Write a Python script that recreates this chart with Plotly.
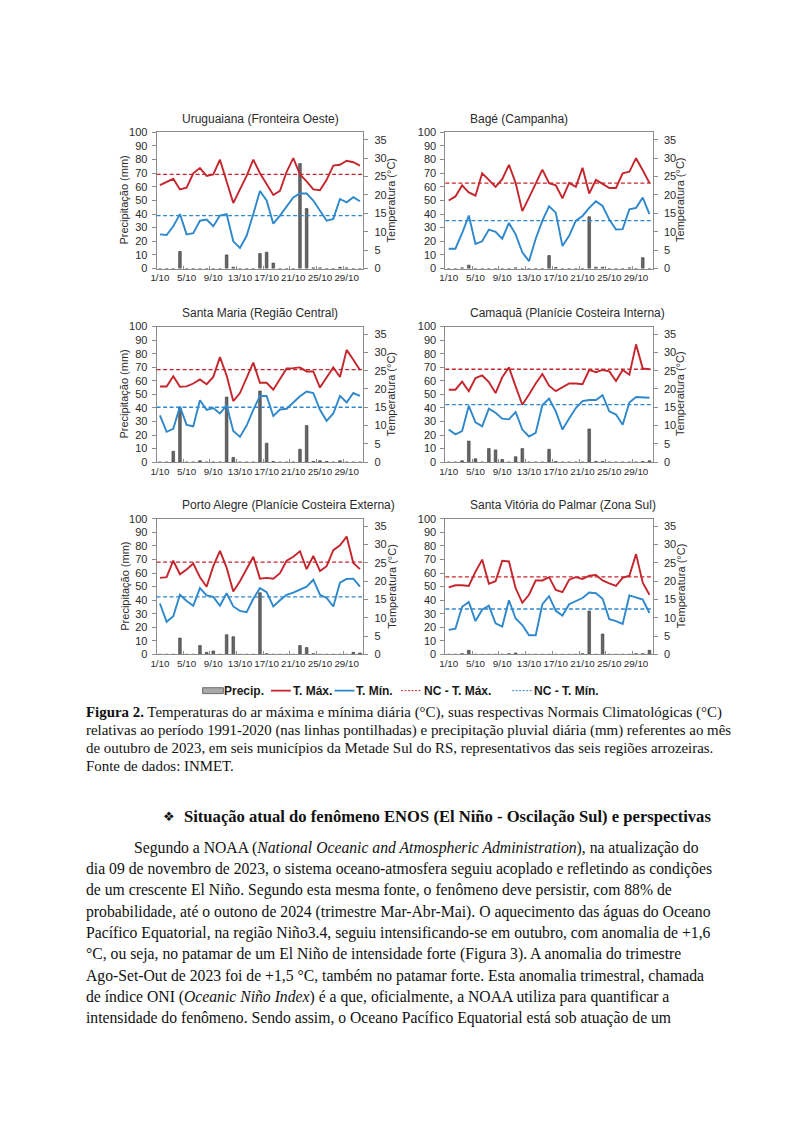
import plotly.graph_objects as go

# The page body has an 8px default margin; the figure is sized to fit inside it.
OFF = 8
FW, FH = 801 - 2 * OFF, 1132 - 2 * OFF
OFFY = 6

def px(x):
    return (x - OFF) / FW

def py(y):
    return 1 - (y - OFFY) / FH

# ---------------- DATA ----------------
days = list(range(1, 32))
tick_days = [1, 5, 9, 13, 17, 21, 25, 29]
tick_labels = ["1/10", "5/10", "9/10", "13/10", "17/10", "21/10", "25/10", "29/10"]
precip_ticks = [0, 10, 20, 30, 40, 50, 60, 70, 80, 90, 100]
temp_ticks = [0, 5, 10, 15, 20, 25, 30, 35]

titles = [
    "Uruguaiana (Fronteira Oeste)",
    "Bagé (Campanha)",
    "Santa Maria (Região Central)",
    "Camaquã (Planície Costeira Interna)",
    "Porto Alegre (Planície Costeira Externa)",
    "Santa Vitória do Palmar (Zona Sul)",
]

precip_uruguaiana = [0, 0, 0, 12.5, 0, 0, 0, 0, 0, 0, 10, 1, 0, 0, 0, 11, 12, 4, 0, 0, 0, 77, 44, 0.5, 0.5, 0, 0, 1, 0.5, 0, 0]
tmax_uruguaiana = [22.7, 23.5, 24.4, 21.5, 22.0, 25.9, 27.3, 25.2, 25.6, 29.6, 23.7, 17.8, 21.5, 25.2, 29.6, 25.9, 23.0, 20.0, 21.1, 26.3, 30.0, 25.6, 23.7, 21.5, 21.3, 24.1, 28.0, 28.2, 29.3, 28.9, 28.0]
tmin_uruguaiana = [9.3, 9.1, 11.5, 14.8, 9.3, 9.6, 13.0, 13.3, 11.5, 14.4, 14.8, 7.4, 5.6, 8.9, 14.8, 21.1, 18.5, 12.2, 14.4, 17.0, 19.3, 20.4, 20.4, 18.5, 15.6, 13.0, 13.5, 18.9, 18.0, 19.4, 18.3]
nc_uruguaiana = [25.6, 14.4]

precip_bage = [0, 0, 0.5, 2.5, 0, 0, 0, 0, 0, 0, 0.5, 0, 0, 0, 0, 9.5, 0.8, 0, 0, 0, 0, 38, 1, 1, 0, 0, 0, 0.5, 0, 8, 0]
tmax_bage = [18.5, 19.6, 22.6, 20.7, 19.8, 25.9, 24.1, 22.2, 24.3, 28.2, 23.3, 15.6, 19.3, 23.0, 26.9, 23.2, 22.6, 19.1, 23.3, 22.2, 27.4, 20.4, 24.1, 23.0, 21.9, 21.9, 25.9, 26.3, 30.0, 26.7, 23.3]
tmin_bage = [5.4, 5.4, 9.6, 14.4, 6.7, 7.4, 10.6, 10.0, 8.1, 12.4, 9.3, 4.4, 2.0, 8.1, 13.0, 16.9, 15.2, 6.1, 8.9, 13.0, 14.3, 16.5, 18.3, 17.0, 13.3, 10.6, 10.7, 16.1, 16.5, 19.3, 14.8]
nc_bage = [23.2, 13.0]

precip_santamaria = [0, 0, 8, 40, 0, 0, 1, 0, 0, 0, 48, 3.5, 0, 0, 0, 52.5, 14, 0.5, 0, 0, 0, 9.5, 27, 0.5, 1, 0.5, 0, 1, 0, 0, 0]
tmax_santamaria = [20.7, 20.7, 23.5, 20.6, 20.7, 21.5, 22.6, 21.3, 23.3, 28.7, 23.7, 16.7, 18.9, 23.0, 27.2, 21.7, 21.7, 19.8, 22.6, 25.6, 25.7, 25.9, 24.8, 24.8, 20.4, 23.0, 25.9, 23.3, 30.7, 28.0, 25.2]
tmin_santamaria = [12.8, 8.3, 9.1, 15.2, 10.2, 9.8, 16.9, 14.3, 14.8, 13.3, 15.6, 8.5, 6.9, 10.0, 14.3, 18.1, 18.1, 12.6, 14.4, 14.6, 16.3, 18.0, 19.3, 18.9, 14.3, 11.3, 13.3, 18.1, 16.3, 18.9, 18.1]
nc_santamaria = [25.3, 15.0]

precip_camaqua = [0, 0, 1, 15.5, 2.5, 0, 10, 9, 2, 0, 4, 10, 0, 0, 0, 9.5, 0.5, 0, 0, 0, 0, 24.5, 0.5, 0.5, 0, 0, 0, 0, 0, 0.5, 1]
tmax_camaqua = [19.8, 19.8, 22.0, 19.4, 23.0, 23.7, 21.9, 18.9, 23.2, 25.9, 20.7, 15.7, 18.5, 21.5, 24.1, 20.9, 19.4, 20.4, 21.5, 21.5, 21.3, 25.2, 24.6, 25.2, 24.8, 22.2, 25.2, 23.9, 32.2, 25.6, 25.4]
tmin_camaqua = [8.9, 7.6, 8.5, 15.4, 10.9, 9.8, 14.6, 13.5, 11.9, 11.7, 13.7, 8.9, 7.0, 8.0, 15.6, 17.4, 13.9, 8.9, 11.9, 14.8, 16.7, 17.0, 17.0, 18.3, 13.9, 13.0, 10.2, 16.3, 17.8, 17.8, 17.6]
nc_camaqua = [25.4, 15.7]

precip_portoalegre = [0, 0, 0, 12, 0, 0, 6.5, 1.5, 2.5, 0, 14.5, 13, 0, 0, 0, 45.5, 0.5, 0, 0, 0, 0, 6.5, 5, 0.5, 0, 0, 0, 0, 0, 1.5, 1]
tmax_portoalegre = [20.9, 21.1, 25.6, 21.9, 23.2, 24.8, 21.1, 18.5, 24.1, 28.3, 23.7, 17.2, 20.0, 23.3, 26.7, 20.7, 20.9, 20.7, 22.2, 25.6, 26.7, 28.2, 23.3, 26.9, 22.8, 24.1, 28.5, 29.8, 32.2, 25.0, 23.3]
tmin_portoalegre = [13.9, 8.9, 10.4, 16.3, 14.6, 13.3, 18.1, 16.1, 15.7, 13.3, 16.7, 13.1, 11.9, 11.5, 15.2, 18.1, 17.0, 13.1, 14.8, 16.3, 16.9, 17.6, 18.5, 20.4, 16.3, 15.4, 13.1, 19.6, 20.6, 20.7, 18.5]
nc_portoalegre = [25.2, 15.7]

precip_svpalmar = [0, 0, 0.5, 3, 0, 0, 0, 0, 0, 0.5, 1, 0, 0, 0, 0, 0, 0, 0, 0, 0, 0.5, 32, 0, 15, 0, 0, 0, 0, 0.5, 0.5, 3]
tmax_svpalmar = [18.3, 18.9, 18.9, 18.7, 22.6, 25.9, 19.3, 20.0, 25.6, 25.4, 18.1, 14.1, 16.3, 20.2, 20.2, 21.1, 17.6, 17.0, 20.4, 21.1, 20.6, 21.5, 21.7, 20.2, 19.4, 18.7, 20.9, 21.5, 27.4, 19.6, 16.3]
tmin_svpalmar = [6.7, 7.0, 13.0, 14.3, 9.1, 12.2, 13.3, 8.5, 7.6, 14.8, 9.8, 8.0, 5.2, 5.2, 13.7, 15.9, 11.9, 10.6, 13.7, 14.6, 15.4, 16.9, 16.7, 15.2, 9.6, 9.1, 8.3, 16.1, 15.6, 15.0, 11.3]
nc_svpalmar = [21.2, 12.4]

precips = [precip_uruguaiana, precip_bage, precip_santamaria, precip_camaqua, precip_portoalegre, precip_svpalmar]
tmaxs = [tmax_uruguaiana, tmax_bage, tmax_santamaria, tmax_camaqua, tmax_portoalegre, tmax_svpalmar]
tmins = [tmin_uruguaiana, tmin_bage, tmin_santamaria, tmin_camaqua, tmin_portoalegre, tmin_svpalmar]
ncs = [nc_uruguaiana, nc_bage, nc_santamaria, nc_camaqua, nc_portoalegre, nc_svpalmar]

# ---------------- STYLE ----------------
RED = "#c3272d"
BLUE = "#2e88cb"
BAR = "#666666"
AXC = "#8c8c8c"
TXT = "#2b2b2b"
SANS = "Liberation Sans, Arial, sans-serif"
SERIF = "Liberation Serif, Times New Roman, serif"

col_x = [(151.7, 360.0), (442.7, 651.7)]
row_y = [(125.5, 263.3), (322.0, 459.0), (516.3, 653.3)]
title_x = [175, 465]

fig = go.Figure()
layout = dict(
    width=FW, height=FH, margin=dict(l=0, r=0, t=0, b=0),
    paper_bgcolor="white", plot_bgcolor="rgba(0,0,0,0)",
    showlegend=False, font=dict(family=SANS, color=TXT),
)
shapes = []
annotations = []

boundaries = [d + 0.5 for d in days if d % 4 == 0]

for i in range(6):
    r, c = divmod(i, 2)
    x0, x1 = col_x[c]
    top, bot = row_y[r]
    xn = "" if i == 0 else str(i + 1)
    yl = "" if i == 0 else str(2 * i + 1)
    yr = str(2 * i + 2)
    xa, ya_l, ya_r = "x" + xn, "y" + yl, "y" + yr

    fig.add_trace(go.Bar(x=days, y=precips[i], xaxis=xa, yaxis=ya_l, width=0.4,
                         marker=dict(color=BAR, line=dict(color="#3a3a3a", width=0.6)),
                         name="Precip."))
    fig.add_trace(go.Scatter(x=days, y=tmaxs[i], xaxis=xa, yaxis=ya_r, mode="lines",
                             line=dict(color=RED, width=1.9), name="T. Máx."))
    fig.add_trace(go.Scatter(x=days, y=tmins[i], xaxis=xa, yaxis=ya_r, mode="lines",
                             line=dict(color=BLUE, width=1.9), name="T. Mín."))

    for val, colr in zip(ncs[i], [RED, BLUE]):
        shapes.append(dict(type="line", xref=xa + " domain", x0=0, x1=1,
                           yref=ya_r, y0=val, y1=val, layer="above",
                           line=dict(color=colr, width=1.3, dash="4px,2.5px")))

    layout["xaxis" + xn] = dict(
        domain=[px(x0), px(x1)], anchor=ya_l, range=[0.5, 31.5],
        tickmode="array", tickvals=tick_days, ticktext=tick_labels, ticks="",
        tickangle=0, showline=True, linecolor=AXC, linewidth=1, mirror=True,
        showgrid=False, zeroline=False, tickfont=dict(size=9.8, color=TXT),
        minor=dict(tickmode="array", tickvals=boundaries, ticks="inside",
                   ticklen=3, tickcolor=AXC, showgrid=False),
    )
    layout["yaxis" + yl] = dict(
        domain=[py(bot), py(top)], anchor=xa, range=[0, 100],
        tickmode="array", tickvals=precip_ticks, ticks="outside", ticklen=4,
        tickcolor=AXC, showline=True, linecolor=AXC, linewidth=1,
        showgrid=False, zeroline=False, tickfont=dict(size=11, color=TXT),
        ticklabelstandoff=2,
    )
    layout["yaxis" + yr] = dict(
        domain=[py(bot), py(top)], anchor=xa, overlaying=ya_l, side="right",
        range=[0, 37.06], tickmode="array", tickvals=temp_ticks,
        ticks="outside", ticklen=4, tickcolor=AXC, showline=True,
        linecolor=AXC, linewidth=1, showgrid=False, zeroline=False,
        tickfont=dict(size=11, color=TXT), ticklabelstandoff=4,
    )

    annotations.append(dict(text=titles[i], x=px(title_x[c]), y=py(top - 13.5),
                            xref="paper", yref="paper", xanchor="left", yanchor="middle",
                            showarrow=False, font=dict(size=12, color=TXT, family=SANS)))
    mid = (top + bot) / 2
    if c == 0:
        annotations.append(dict(text="Precipitação (mm)", x=px(119), y=py(mid),
                                xref="paper", yref="paper", textangle=-90,
                                xanchor="center", yanchor="middle", showarrow=False,
                                font=dict(size=11, color=TXT, family=SANS)))
    annotations.append(dict(text="Temperatura (°C)", x=px(x1 + 28), y=py(mid),
                            xref="paper", yref="paper", textangle=-90,
                            xanchor="center", yanchor="middle", showarrow=False,
                            font=dict(size=11, color=TXT, family=SANS)))

# ---------------- LEGEND (manual) ----------------
ly = 690
shapes.append(dict(type="rect", xref="paper", yref="paper",
                   x0=px(198), x1=px(219), y0=py(693), y1=py(687),
                   fillcolor="#a8a8a8", line=dict(color="#555555", width=0.8)))
for (a, b, colr, dash, wd) in [(267, 287, RED, "solid", 1.8), (331, 351, BLUE, "solid", 1.8),
                               (398, 419, RED, "2px,1.5px", 1), (510, 530, BLUE, "2px,1.5px", 1)]:
    shapes.append(dict(type="line", xref="paper", yref="paper", x0=px(a), x1=px(b),
                       y0=py(ly), y1=py(ly), line=dict(color=colr, width=wd, dash=dash)))
for (xx, t) in [(218, "Precip."), (287, "T. Máx."), (351, "T. Mín."),
                (419, "NC - T. Máx."), (530, "NC - T. Mín.")]:
    annotations.append(dict(text="<b>" + t + "</b>", x=px(xx), y=py(ly), xref="paper", yref="paper",
                            xanchor="left", yanchor="middle", showarrow=False,
                            font=dict(size=12, color="#1a1a1a", family=SANS)))

# ---------------- CAPTION & BODY TEXT ----------------
caption = [
    "<b>Figura 2.</b> Temperaturas do ar máxima e mínima diária (°C), suas respectivas Normais Climatológicas (°C)",
    "relativas ao período 1991-2020 (nas linhas pontilhadas) e precipitação pluvial diária (mm) referentes ao mês",
    "de outubro de 2023, em seis municípios da Metade Sul do RS, representativos das seis regiões arrozeiras.",
    "Fonte de dados: INMET.",
]
cap_y = [712, 730, 748, 766]
for t, yy in zip(caption, cap_y):
    annotations.append(dict(text=t, x=px(79), y=py(yy), xref="paper", yref="paper",
                            xanchor="left", yanchor="middle", showarrow=False,
                            font=dict(size=14.9, color="#111111", family=SERIF)))

annotations.append(dict(text="<b>❖</b>", x=px(164), y=py(817), xref="paper", yref="paper",
                        xanchor="center", yanchor="middle", showarrow=False,
                        font=dict(size=13, color="#111111", family="DejaVu Sans")))
annotations.append(dict(text="<b>Situação atual do fenômeno ENOS (El Niño - Oscilação Sul) e perspectivas</b>",
                        x=px(177), y=py(817), xref="paper", yref="paper",
                        xanchor="left", yanchor="middle", showarrow=False,
                        font=dict(size=16.6, color="#111111", family=SERIF)))

body = [
    "Segundo a NOAA (<i>National Oceanic and Atmospheric Administration</i>), na atualização do",
    "dia 09 de novembro de 2023, o sistema oceano-atmosfera seguiu acoplado e refletindo as condições",
    "de um crescente El Niño. Segundo esta mesma fonte, o fenômeno deve persistir, com 88% de",
    "probabilidade, até o outono de 2024 (trimestre Mar-Abr-Mai). O aquecimento das águas do Oceano",
    "Pacífico Equatorial, na região Niño3.4, seguiu intensificando-se em outubro, com anomalia de +1,6",
    "°C, ou seja, no patamar de um El Niño de intensidade forte (Figura 3). A anomalia do trimestre",
    "Ago-Set-Out de 2023 foi de +1,5 °C, também no patamar forte. Esta anomalia trimestral, chamada",
    "de índice ONI (<i>Oceanic Niño Index</i>) é a que, oficialmente, a NOAA utiliza para quantificar a",
    "intensidade do fenômeno. Sendo assim, o Oceano Pacífico Equatorial está sob atuação de um",
]
body_y = [849, 870.5, 892, 913.5, 935, 956.5, 978, 999.5, 1021]
for k, (t, yy) in enumerate(zip(body, body_y)):
    annotations.append(dict(text=t, x=px(127 if k == 0 else 79), y=py(yy), xref="paper", yref="paper",
                            xanchor="left", yanchor="middle", showarrow=False,
                            font=dict(size=15.7, color="#111111", family=SERIF)))

layout["shapes"] = shapes
layout["annotations"] = annotations
fig.update_layout(**layout)
fig.write_html("out.html")
